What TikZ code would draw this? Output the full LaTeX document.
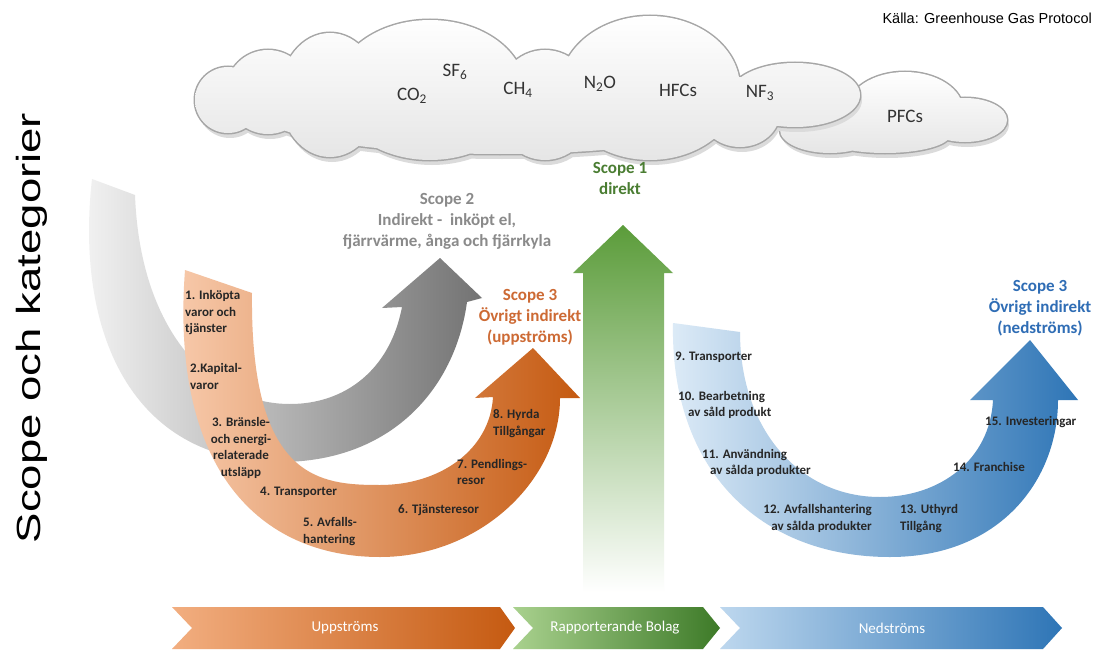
\documentclass[tikz,border=0pt]{standalone}
\usepackage{fontspec}
\setmainfont{Carlito}
\newfontfamily\arialfont{Liberation Sans}

\definecolor{scgreen}{HTML}{5B9C3A}
\definecolor{scgreendark}{HTML}{3D7A28}
\definecolor{scgreenlight}{HTML}{A9D18E}
\definecolor{scgreentext}{HTML}{4A7D32}
\definecolor{scgraytext}{HTML}{8A8A8A}
\definecolor{peach}{HTML}{F8CBAD}
\definecolor{peachmid}{HTML}{F2AE80}
\definecolor{rust}{HTML}{C55A11}
\definecolor{rusttext}{HTML}{CD6A34}
\definecolor{skylight}{HTML}{DDEBF7}
\definecolor{skymid}{HTML}{9DC3E6}
\definecolor{skybar}{HTML}{BDD7EE}
\definecolor{navy}{HTML}{2E75B6}
\definecolor{navytext}{HTML}{2F6DB5}
\definecolor{cloudrim}{HTML}{A6A6A6}

\newcommand{\bigcloud}{228/100/33pt/33pt, 268/92/42pt/42pt, 330/95/50pt/62pt, 430/90/95pt/70pt, 545/105/50pt/55pt, 650/88/90pt/72pt, 795/95/65pt/32pt, 740/112/40pt/35pt, 500/112/240pt/42pt}
\newcommand{\smallcloud}{905/110/58pt/38pt, 965/120/42pt/22pt, 830/130/50pt/23pt, 885/135/65pt/18pt}

\begin{document}
\begin{tikzpicture}[
			x=1pt, y=-1pt,
			item/.style={font=\fontsize{13}{16.5}\selectfont\bfseries, text=black!85, inner sep=0pt},
			scopetext/.style={font=\fontsize{17}{21}\selectfont\bfseries, align=center, inner sep=0pt},
			gas/.style={font=\fontsize{19}{22}\selectfont, text=black!80, inner sep=0pt},
			bartext/.style={font=\fontsize{15}{18}\selectfont, text=white, inner sep=0pt},
			cloudshadow/.style={fill=black!14, shift={(2,5)}},
			cloudedge/.style={draw=cloudrim, line width=3pt},
			cloudfill/.style={top color=white, bottom color=black!10}
			]
			
			% Background
			\fill[white] (0,0) rectangle (1105,650);
			\useasboundingbox (0,0) rectangle (1105,650);
			
			% Clouds
			\fill[cloudshadow] foreach \cx/\cy/\rx/\ry in \smallcloud {(\cx,\cy) ellipse [x radius=\rx, y radius=\ry]};
			\path[cloudedge] foreach \cx/\cy/\rx/\ry in \smallcloud {(\cx,\cy) ellipse [x radius=\rx, y radius=\ry]};
			\shade[cloudfill] foreach \cx/\cy/\rx/\ry in \smallcloud {(\cx,\cy) ellipse [x radius=\rx, y radius=\ry]};
			\fill[cloudshadow] foreach \cx/\cy/\rx/\ry in \bigcloud {(\cx,\cy) ellipse [x radius=\rx, y radius=\ry]};
			\path[cloudedge] foreach \cx/\cy/\rx/\ry in \bigcloud {(\cx,\cy) ellipse [x radius=\rx, y radius=\ry]};
			\shade[cloudfill] foreach \cx/\cy/\rx/\ry in \bigcloud {(\cx,\cy) ellipse [x radius=\rx, y radius=\ry]};
			
			% Arrows
			\shade[left color=black!4, right color=black!55]
			(92,179) .. controls (75,330) and (130,462) .. (280,462)
			.. controls (390,462) and (455,390) .. (467,302)
			-- (482,298) -- (440,258) -- (382,308) -- (402,307)
			.. controls (390,370) and (345,404) .. (290,404)
			.. controls (210,404) and (140,330) .. (135,195) -- cycle;
			\shade[left color=peach, middle color=peachmid, right color=rust]
			(185,270) .. controls (170,470) and (260,557) .. (380,557)
			.. controls (480,557) and (560,480) .. (560,398)
			-- (580,398) -- (533,348) -- (475,398) -- (493,397)
			.. controls (490,450) and (440,485) .. (380,485)
			.. controls (320,485) and (250,480) .. (252,293) -- cycle;
			\shade[top color=scgreen, middle color=scgreen!45!white, bottom color=white]
			(583,273) -- (573,273) -- (623,225) -- (673,273) -- (664,273) -- (664,592) -- (583,592) -- cycle;
			\shade[left color=skylight, middle color=skymid, right color=navy]
			(673,323) .. controls (670,470) and (760,557) .. (890,557)
			.. controls (1000,557) and (1058,480) .. (1058,400)
			-- (1078,400) -- (1030,340) -- (970,400) -- (993,400)
			.. controls (990,460) and (940,497) .. (880,497)
			.. controls (800,497) and (740,430) .. (740,332) -- cycle;
			
			% Bottom bar
			\shade[left color=peachmid, right color=rust]
			(172,607) -- (500,607) -- (515,628) -- (500,649) -- (172,649) -- (192,628) -- cycle;
			\shade[left color=scgreenlight, right color=scgreendark]
			(513,607) -- (703,607) -- (720,628) -- (703,649) -- (513,649) -- (533,628) -- cycle;
			\shade[left color=skybar, right color=navy]
			(720,607) -- (1043,607) -- (1062,628) -- (1043,649) -- (720,649) -- (740,628) -- cycle;
			
			% Nodes
			\node[anchor=east, inner sep=0pt, font=\arialfont\fontsize{14.5}{16}\selectfont] (source) at (1092,18) {Källa: Greenhouse Gas Protocol};
			\node[rotate=90, anchor=base, inner sep=0pt, font=\arialfont\fontsize{33.5}{36}\selectfont] (title) at (40,328) {\scalebox{1.36}[1]{Scope och kategorier}};
			
			\node[gas] (co2) at (412,96) {CO\textsubscript{2}};
			\node[gas] (sf6) at (455,72) {SF\textsubscript{6}};
			\node[gas] (ch4) at (518,90) {CH\textsubscript{4}};
			\node[gas] (n2o) at (600,84) {N\textsubscript{2}O};
			\node[gas] (hfcs) at (678,90) {HFCs};
			\node[gas] (nf3) at (760,93) {NF\textsubscript{3}};
			\node[gas] (pfcs) at (905,116) {PFCs};
			
			\node[scopetext, text=scgreentext] (scope1) at (620,178) {Scope 1\\direkt};
			\node[scopetext, text=scgraytext] (scope2) at (447,221) {Scope 2\\Indirekt -\ \ inköpt el,\\fjärrvärme, ånga och fjärrkyla};
			\node[scopetext, text=rusttext] (scope3up) at (530,317) {Scope 3\\Övrigt indirekt\\(uppströms)};
			\node[scopetext, text=navytext] (scope3down) at (1040,308) {Scope 3\\Övrigt indirekt\\(nedströms)};
			
			\node[item, anchor=west, align=left] (up1) at (185,313) {1. Inköpta\\varor och\\tjänster};
			\node[item, anchor=west, align=left] (up2) at (190,376.5) {2.Kapital-\\varor};
			\node[item, align=center] (up3) at (241,448) {3. Bränsle-\\och energi-\\relaterade\\utsläpp};
			\node[item, anchor=west] (up4) at (260,492) {4. Transporter};
			\node[item, anchor=west, align=left] (up5) at (303,531.5) {5. Avfalls-\\hantering};
			\node[item, anchor=west] (up6) at (398,510) {6. Tjänsteresor};
			\node[item, anchor=west, align=left] (up7) at (457,472) {7. Pendlings-\\resor};
			\node[item, anchor=west, align=left] (up8) at (493,423.5) {8. Hyrda\\Tillgångar};
			
			\node[item, anchor=west] (down9) at (675,357) {9. Transporter};
			\node[item, anchor=west, align=left] (down10) at (678,405) {10. Bearbetning\\\hspace*{10pt}av såld produkt};
			\node[item, anchor=west, align=left] (down11) at (702,463) {11. Användning\\\hspace*{8pt}av sålda produkter};
			\node[item, anchor=east, align=right] (down12) at (872,518.5) {12. Avfallshantering\\av sålda produkter};
			\node[item, anchor=west, align=left] (down13) at (900,518.5) {13. Uthyrd\\Tillgång};
			\node[item, anchor=west] (down14) at (953,467) {14. Franchise};
			\node[item, anchor=west] (down15) at (985,422) {15. Investeringar};
			
			\node[bartext] (barup) at (345,628) {Uppströms};
			\node[bartext] (barmid) at (615,628) {Rapporterande Bolag};
			\node[bartext] (bardown) at (892,628) {Nedströms};
			
		\end{tikzpicture}
\end{document}
